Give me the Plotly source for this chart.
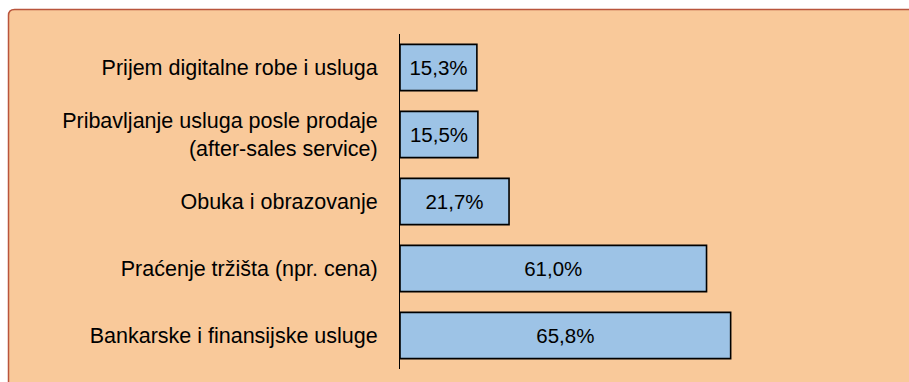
import plotly.graph_objects as go

# Survey results: share of enterprises using the internet for each purpose
categories = [
    "Prijem digitalne robe i usluga",
    "Pribavljanje usluga posle prodaje<br>(after-sales service)",
    "Obuka i obrazovanje",
    "Praćenje tržišta (npr. cena)",
    "Bankarske i finansijske usluge",
]
values = [15.3, 15.5, 21.7, 61.0, 65.8]
value_labels = ["15,3%", "15,5%", "21,7%", "61,0%", "65,8%"]

W, H = 909, 382
ML, MR, MT, MB = 400, 107, 34, 13
PW, PH = W - ML - MR, H - MT - MB

PEACH = "#F9C99A"
BAR = "#9DC3E6"
FRAME = "#B9553C"
FONT = "Liberation Sans, Arial, sans-serif"


def px(x):
    return (x - ML) / PW


def py(y):
    return (H - MB - y) / PH


fig = go.Figure(
    go.Bar(
        x=values,
        y=categories,
        orientation="h",
        text=value_labels,
        textposition="inside",
        insidetextanchor="middle",
        textangle=0,
        textfont=dict(family=FONT, size=20.5, color="#000000"),
        marker=dict(color=BAR, line=dict(color="#000000", width=1.6)),
        hoverinfo="skip",
    )
)

# Peach chart-area panel with a rounded top-left corner
r = 6
frame_path = (
    f"M {px(8.5)},{py(400)} L {px(8.5)},{py(9.5 + r)} "
    f"Q {px(8.5)},{py(9.5)} {px(8.5 + r)},{py(9.5)} "
    f"L {px(930)},{py(9.5)} L {px(930)},{py(400)} Z"
)
fig.add_shape(
    type="path",
    path=frame_path,
    xref="paper",
    yref="paper",
    fillcolor=PEACH,
    line=dict(color=FRAME, width=1.5),
    layer="below",
)

fig.update_layout(
    width=W,
    height=H,
    margin=dict(l=ML, r=MR, t=MT, b=MB, pad=0),
    paper_bgcolor="white",
    plot_bgcolor="rgba(0,0,0,0)",
    bargap=0.31,
    showlegend=False,
    font=dict(family=FONT, size=21.5, color="#000000"),
    uniformtext=dict(minsize=20, mode="show"),
)
fig.update_xaxes(
    range=[0, 80],
    showgrid=False,
    zeroline=False,
    showline=False,
    showticklabels=False,
    ticks="",
)
fig.update_yaxes(
    autorange="reversed",
    showgrid=False,
    zeroline=False,
    showline=True,
    linecolor="#000000",
    linewidth=1,
    ticks="",
    ticklabelstandoff=17,
    tickfont=dict(family=FONT, size=21.5, color="#000000"),
)

fig.write_html("out.html")
